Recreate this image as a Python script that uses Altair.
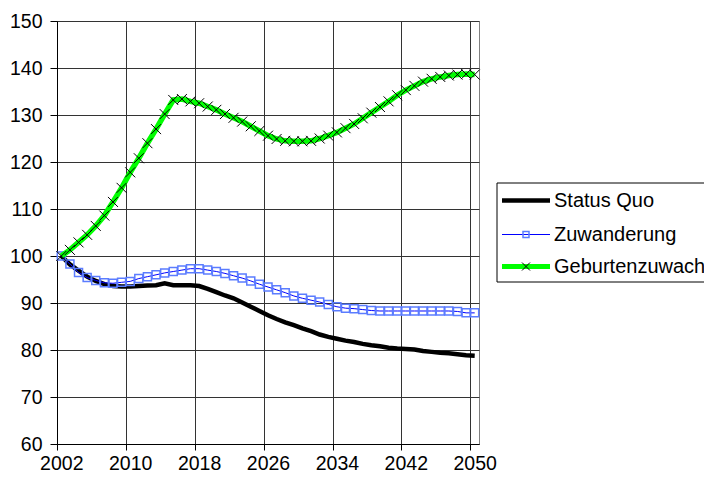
import altair as alt
import pandas as pd

years = list(range(2002, 2051))

status_quo = [100, 98.2, 96.9, 95.6, 94.7, 94.0, 93.6, 93.5, 93.5, 93.6,
              93.7, 93.8, 94.2, 93.8, 93.8, 93.8, 93.6, 93.0, 92.3, 91.6,
              91.0, 90.1, 89.2, 88.3, 87.4, 86.6, 85.9, 85.3, 84.6, 84.0,
              83.3, 82.8, 82.4, 82.0, 81.7, 81.3, 81.0, 80.8, 80.5, 80.3,
              80.2, 80.1, 79.8, 79.6, 79.4, 79.3, 79.1, 78.9, 78.8]

zuwanderung = [100, 98.3, 96.5, 95.4, 94.8, 94.3, 94.2, 94.4, 94.6, 95.2,
               95.6, 96.0, 96.4, 96.7, 97.0, 97.3, 97.3, 97.0, 96.7, 96.3,
               95.8, 95.3, 94.7, 94.0, 93.4, 92.8, 92.2, 91.5, 91.0, 90.6,
               90.2, 89.7, 89.2, 88.9, 88.8, 88.6, 88.4, 88.3, 88.3, 88.3,
               88.3, 88.3, 88.3, 88.3, 88.3, 88.3, 88.2, 87.9, 87.9]

geburtenzuwachs = [100, 101.3, 102.9, 104.5, 106.4, 108.6, 111.5, 114.5, 117.8, 120.8,
                   124.0, 127.0, 130.2, 133.2, 133.4, 132.9, 132.5, 131.8, 131.1, 130.2,
                   129.4, 128.6, 127.6, 126.6, 125.6, 124.9, 124.5, 124.4, 124.4, 124.5,
                   125.0, 125.6, 126.3, 127.2, 128.1, 129.3, 130.5, 131.7, 132.9, 134.2,
                   135.3, 136.2, 137.1, 137.7, 138.1, 138.4, 138.6, 138.7, 138.6]

series_names = ["Status Quo", "Zuwanderung", "Geburtenzuwachs"]
y_ticks = list(range(60, 151, 10))
x_label_years = list(range(2002, 2051, 8))

FONT = "Liberation Sans"
W, H = 422, 423
px_per_year = W / 49.0

df_sq = pd.DataFrame({"year": years, "value": status_quo})
df_zu = pd.DataFrame({"year": years, "value": zuwanderung})
df_ge = pd.DataFrame({"year": years, "value": geburtenzuwachs})

x_scale = alt.Scale(domain=[2001.5, 2050.5], nice=False, zero=False)
y_scale = alt.Scale(domain=[60, 150], nice=False, zero=False)

x_axis = alt.Axis(
    values=[y - 0.5 for y in x_label_years],
    labelExpr="datum.value + 0.5",
    labelOffset=px_per_year / 2,
    title=None, grid=True, gridColor="#333333", gridWidth=1,
    tickSize=6, tickColor="#000000", domainColor="#000000",
    labelFont=FONT, labelFontSize=19.5, labelColor="#000000",
    labelPadding=4, labelFlush=False, labelOverlap=False,
)
y_axis = alt.Axis(
    values=y_ticks, title=None, grid=True, gridColor="#333333", gridWidth=1,
    tickSize=7, tickColor="#000000", domainColor="#000000",
    labelFont=FONT, labelFontSize=19.5, labelColor="#000000",
    labelPadding=8,
)

X = alt.X("year:Q", scale=x_scale, axis=x_axis)
Y = alt.Y("value:Q", scale=y_scale, axis=y_axis)

line_sq = alt.Chart(df_sq).mark_line(color="#000000", strokeWidth=4.5).encode(x=X, y=Y)
line_zu = alt.Chart(df_zu).mark_line(color="#0000ff", strokeWidth=1).encode(x=X, y=Y)
pts_zu = alt.Chart(df_zu).mark_point(shape="square", filled=False, size=64,
                                     stroke="#5b7cff", strokeWidth=1.5, opacity=1).encode(x=X, y=Y)
line_ge = alt.Chart(df_ge).mark_line(color="#00ff00", strokeWidth=5.5).encode(x=X, y=Y)
pts_ge = alt.Chart(df_ge).mark_point(shape="M-1,-1L1,1M-1,1L1,-1", filled=False, size=100,
                                     stroke="#000000", strokeWidth=1, opacity=1).encode(x=X, y=Y)

# Legend (drawn manually, outside plot area)
leg_df = pd.DataFrame({"name": series_names})
LX0, LX1 = 440, 720
LY0, LY1 = 162, 261
rows_y = [179.5, 213.5, 245.5]
sym_x0, sym_x1, sym_xc = 445, 493, 469
txt_x = 497

leg_box = alt.Chart(leg_df.head(1)).mark_rect(fill="#ffffff", stroke="#000000", strokeWidth=1).encode(
    x=alt.value(LX0), x2=alt.value(LX1), y=alt.value(LY0), y2=alt.value(LY1))

leg_layers = [leg_box]
styles = [
    dict(color="#000000", width=4.5, marker=None),
    dict(color="#0000ff", width=1, marker="square"),
    dict(color="#00ff00", width=5, marker="x"),
]
for i, name in enumerate(series_names):
    st = styles[i]
    ry = rows_y[i]
    sub = leg_df.iloc[[i]]
    leg_layers.append(alt.Chart(sub).mark_rule(color=st["color"], strokeWidth=st["width"]).encode(
        x=alt.value(sym_x0), x2=alt.value(sym_x1), y=alt.value(ry)))
    if st["marker"] == "square":
        leg_layers.append(alt.Chart(sub).mark_point(shape="square", filled=False, size=36,
                                                    stroke="#5b7cff", strokeWidth=1.5, opacity=1).encode(
            x=alt.value(sym_xc), y=alt.value(ry)))
    elif st["marker"] == "x":
        leg_layers.append(alt.Chart(sub).mark_point(shape="M-1,-1L1,1M-1,1L1,-1", filled=False, size=64,
                                                    stroke="#000000", strokeWidth=1, opacity=1).encode(
            x=alt.value(sym_xc), y=alt.value(ry)))
    leg_layers.append(alt.Chart(sub).mark_text(align="left", baseline="middle", font=FONT,
                                               fontSize=20, color="#000000").encode(
        x=alt.value(txt_x), y=alt.value(ry), text="name:N"))

chart = alt.layer(
    line_sq, line_zu, pts_zu, line_ge, pts_ge, *leg_layers
).properties(
    width=W, height=H,
    autosize=alt.AutoSizeParams(type="none"),
    padding={"left": 49, "top": 13, "right": 225, "bottom": 31},
    background="#ffffff",
).configure_view(
    stroke="#808080", strokeWidth=1
)

chart.save("out.html", embed_options={"renderer": "svg", "actions": False})
